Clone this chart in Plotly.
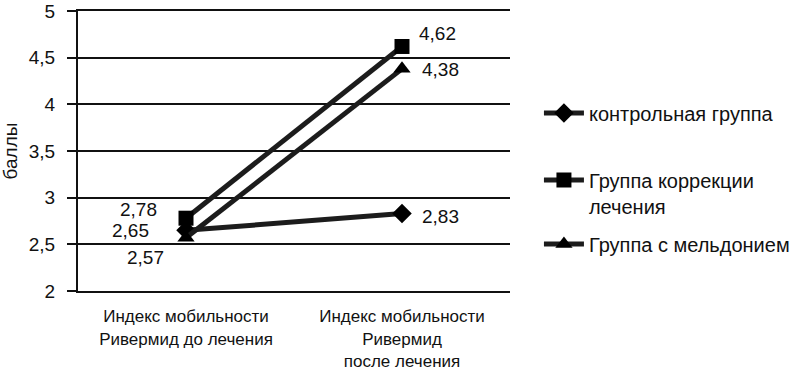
import plotly.graph_objects as go

categories = ["Индекс мобильности<br>Ривермид до лечения",
              "Индекс мобильности<br>Ривермид<br>после лечения"]
series_names = ["контрольная группа", "Группа коррекции<br>лечения", "Группа с мельдонием"]
control = [2.65, 2.83]
correction = [2.78, 4.62]
meldonium = [2.57, 4.38]
label_text = {"control": ["2,65", "2,83"], "correction": ["2,78", "4,62"], "meldonium": ["2,57", "4,38"]}
y_ticks = [2, 2.5, 3, 3.5, 4, 4.5, 5]

FONT = "Liberation Sans, Arial, sans-serif"
C = "#1c1c1c"

fig = go.Figure()
specs = [
    (series_names[0], control, "diamond", 15, "legend"),
    (series_names[1], correction, "square", 15, "legend2"),
    (series_names[2], meldonium, "triangle-up", 15, "legend3"),
]
for name, vals, sym, sz, lg in specs:
    fig.add_trace(go.Scatter(
        x=[0, 1], y=vals, name=name, mode="lines+markers",
        line=dict(color=C, width=5),
        marker=dict(symbol=sym, size=sz, color="#000000"),
        legend=lg,
    ))

# data labels: (x index, y value, text, xshift, yshift)
labels = [
    (0, correction[0], label_text["correction"][0], -48, 9),
    (0, control[0], label_text["control"][0], -56, 0),
    (0, meldonium[0], label_text["meldonium"][0], -41, -20),
    (1, correction[1], label_text["correction"][1], 35, 13),
    (1, meldonium[1], label_text["meldonium"][1], 38, -1),
    (1, control[1], label_text["control"][1], 38, -3),
]
for xi, yv, t, xs, ys in labels:
    fig.add_annotation(x=xi, y=yv, xref="x", yref="y", text=t, showarrow=False,
                       xshift=xs, yshift=ys, font=dict(size=19, color="#111", family=FONT))

leg_common = dict(xanchor="left", font=dict(size=20, family=FONT, color="#111"),
                  valign="top", itemwidth=40, bgcolor="rgba(0,0,0,0)")
fig.update_layout(
    width=800, height=374,
    margin=dict(l=78, r=290, t=11, b=83, autoexpand=False),
    plot_bgcolor="white", paper_bgcolor="white",
    separators=", ",
    font=dict(family=FONT, color="#111", size=18),
    showlegend=True,
    legend=dict(x=1.067, y=0.636, yanchor="middle", **leg_common),
    legend2=dict(x=1.067, y=0.35, yanchor="middle", **leg_common),
    legend3=dict(x=1.067, y=0.168, yanchor="middle", **leg_common),
)
fig.update_xaxes(
    range=[-0.5, 1.5], tickmode="array", tickvals=[0, 1], ticktext=categories,
    showgrid=False, zeroline=False, showline=True, mirror=True,
    linecolor="#111", linewidth=2, ticks="", ticklabelstandoff=9,
    tickfont=dict(size=17, family=FONT), fixedrange=True,
)
fig.update_yaxes(
    range=[2, 5], tickvals=y_ticks, tickformat=".1~f",
    showgrid=True, gridcolor="#111", gridwidth=2,
    showline=True, linecolor="#111", linewidth=2,
    ticks="outside", ticklen=9, tickcolor="#111", tickwidth=2,
    ticklabelstandoff=8,
    zeroline=False, tickfont=dict(size=19, family=FONT),
    title=dict(text="баллы", font=dict(size=19, family=FONT), standoff=14),
)

fig.write_html("out.html", post_script="document.body.style.margin='0';",
               config={"displayModeBar": False})
